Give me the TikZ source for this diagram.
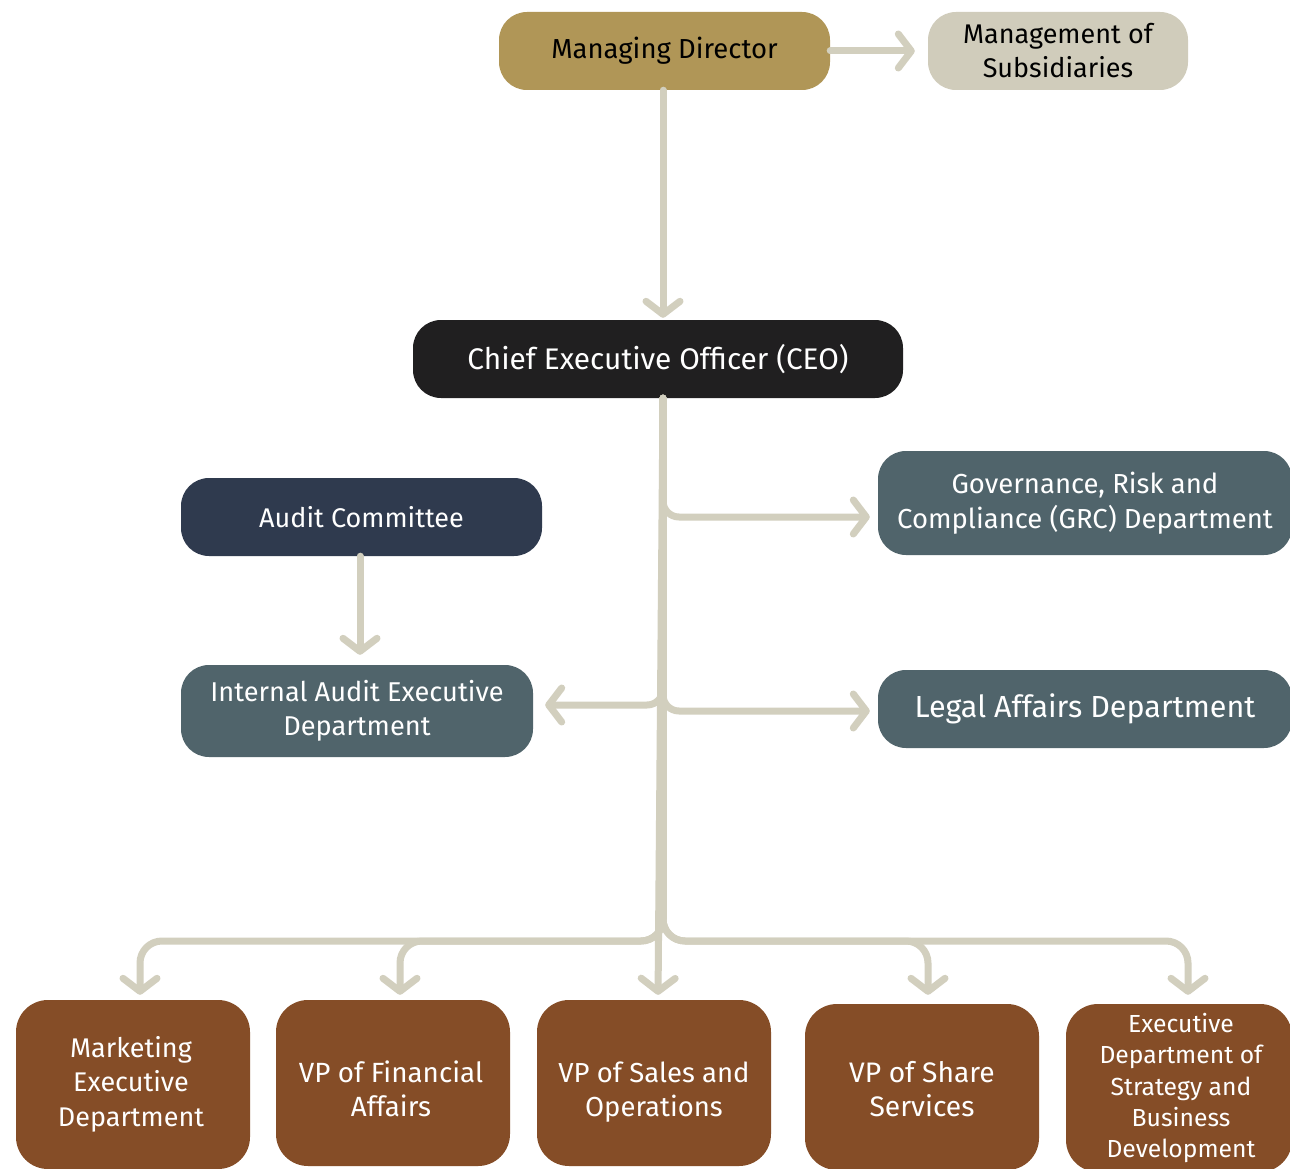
\documentclass[tikz,border=0pt]{standalone}
\usepackage{fontspec}
\setmainfont{Fira Sans}
\usetikzlibrary{arrows.meta,calc}
\definecolor{gold}{HTML}{B09657}
\definecolor{beige}{HTML}{D0CCBB}
\definecolor{connc}{HTML}{D2CFBE}
\definecolor{ceoc}{HTML}{201F20}
\definecolor{navy}{HTML}{2F3A4E}
\definecolor{slate}{HTML}{50646B}
\definecolor{brown}{HTML}{854D27}
\tikzset{
  box/.style={rounded corners=28pt, inner sep=0pt, align=center,
    font=\fontsize{27.5}{34.5}\selectfont, text=white},
  btext/.style={inner sep=0pt, align=center, font=\fontsize{27.5}{34.5}\selectfont, text=white},
  conn/.style={draw=connc, line width=7pt, line cap=round, line join=round,
    -{Straight Barb[length=13pt,width=34pt,line cap=round,line join=round]}},
}
\begin{document}
\begin{tikzpicture}[x=1pt,y=-1pt]
\useasboundingbox[fill=white] (0,0) rectangle (1290,1169);
% top
\node[box, fill=gold, text=black, minimum width=331pt, minimum height=78pt] (md) at (664.5,51) {Managing Director};
\node[box, fill=beige, text=black, minimum width=260pt, minimum height=78pt, font=\fontsize{27}{34}\selectfont] (mos) at (1058,51) {Management of\\Subsidiaries};
\node[box, fill=ceoc, minimum width=490pt, minimum height=78pt, font=\fontsize{29.8}{35}\selectfont] (ceo) at (658,359) {Chief Executive Officer (CEO)};
% middle
\node[box, fill=slate, minimum width=414pt, minimum height=104pt] (grc) at (1085,503) {Governance, Risk and\\Compliance (GRC) Department};
\node[box, fill=slate, minimum width=414pt, minimum height=78pt, font=\fontsize{30.5}{35}\selectfont] (legal) at (1085,709) {Legal Affairs Department};
\node[box, fill=navy, minimum width=361pt, minimum height=78pt, font=\fontsize{27}{34}\selectfont] (ac) at (361.5,517) {Audit Committee};
\node[box, fill=slate, minimum width=352pt, minimum height=92pt, font=\fontsize{27.2}{34}\selectfont] (ia) at (357,711) {Internal Audit Executive\\Department};
% bottom
\node[box, fill=brown, minimum width=234pt, minimum height=169pt, rounded corners=32pt] (mkt) at (133,1084.5) {};
\node[btext, font=\fontsize{27}{34.5}\selectfont] (mktt) at (131,1084) {Marketing\\Executive\\Department};
\node[box, fill=brown, minimum width=234pt, minimum height=166pt, rounded corners=32pt] (vpf) at (393,1083) {};
\node[btext, font=\fontsize{27.8}{34.5}\selectfont] (vpft) at (391,1089) {VP of Financial\\Affairs};
\node[box, fill=brown, minimum width=234pt, minimum height=166pt, rounded corners=32pt] (vps) at (654,1083) {};
\node[btext] (vpst) at (654,1092) {VP of Sales and\\Operations};
\node[box, fill=brown, minimum width=234pt, minimum height=166pt, rounded corners=32pt] (vpsh) at (922,1087) {};
\node[btext, font=\fontsize{28.2}{34.5}\selectfont] (vpsht) at (922,1089) {VP of Share\\Services};
\node[box, fill=brown, minimum width=226pt, minimum height=168pt, rounded corners=32pt] (exd) at (1179,1088) {};
\node[btext, font=\fontsize{24.7}{31.2}\selectfont] (exdt) at (1181,1088) {Executive\\Department of\\Strategy and\\Business\\Development};
% connectors
\coordinate (ceoB) at ([xshift=5pt]ceo.south);
\coordinate (bus) at (0,941);
\draw[conn, shorten >=13pt] (md.east) -- (mos.west);
\draw[conn, shorten >=2pt] ([xshift=-1.5pt]md.south) -- ([xshift=-1.5pt]md.south |- ceo.north);
\draw[conn, shorten >=10pt] ([xshift=-1.5pt]ac.south) -- ([xshift=-1.5pt]ac.south |- ia.north);
\draw[conn, rounded corners=16pt, shorten >=8pt] (ceoB) |- ([yshift=-14pt]grc.west);
\draw[conn, rounded corners=16pt, shorten >=8pt] (ceoB) |- ([yshift=-2pt]legal.west);
\draw[conn, rounded corners=16pt, shorten >=12pt] (ceoB) |- ([yshift=6pt]ia.east);
\draw[conn, rounded corners=22pt, shorten >=5pt] (ceoB) |- ([xshift=7pt]mkt.north |- bus) -- ([xshift=7pt]mkt.north);
\draw[conn, rounded corners=22pt, shorten >=5pt] (ceoB) |- ([xshift=7pt]vpf.north |- bus) -- ([xshift=7pt]vpf.north);
\draw[conn, shorten >=5pt] (ceoB) -- ([xshift=4pt]vps.north);
\draw[conn, rounded corners=22pt, shorten >=9pt] (ceoB) |- ([xshift=6pt]vpsh.north |- bus) -- ([xshift=6pt]vpsh.north);
\draw[conn, rounded corners=22pt, shorten >=9pt] (ceoB) |- ([xshift=9pt]exd.north |- bus) -- ([xshift=9pt]exd.north);
\end{tikzpicture}
\end{document}
